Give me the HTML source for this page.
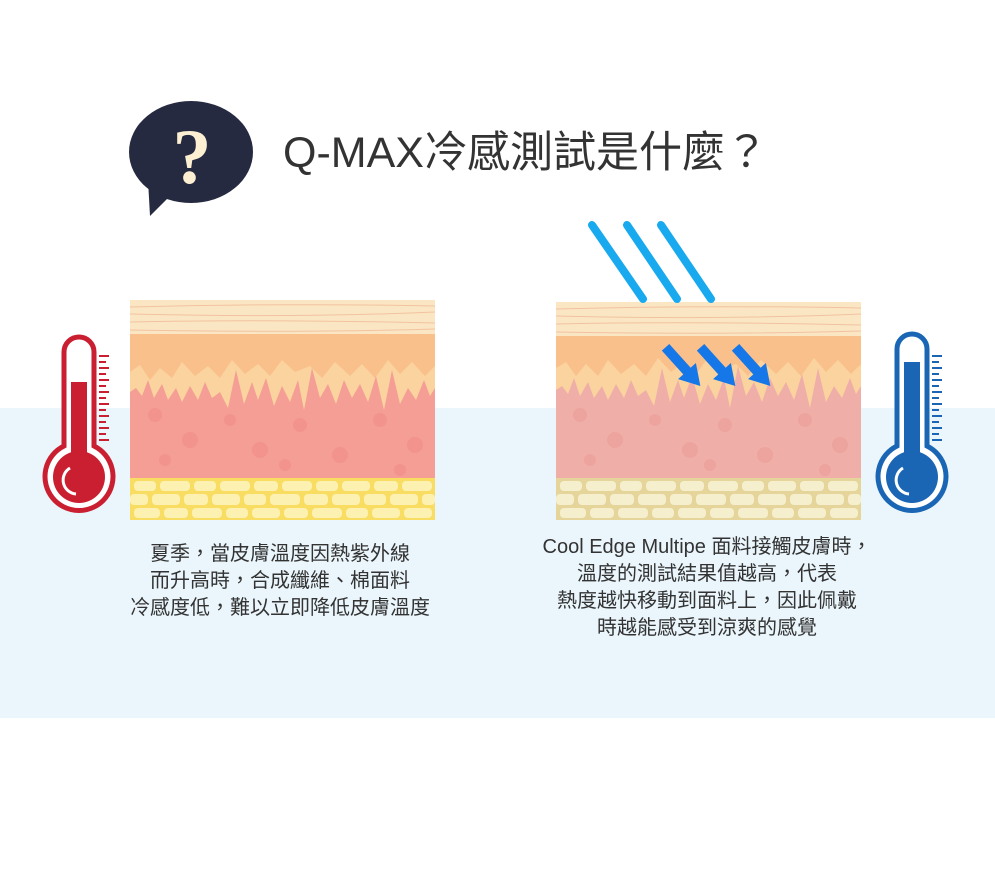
<!DOCTYPE html>
<html><head><meta charset="utf-8">
<style>
html,body{margin:0;padding:0;background:#fff;}
body{width:995px;height:883px;position:relative;overflow:hidden;font-family:"Liberation Sans","Noto Sans CJK TC",sans-serif;}
.band{position:absolute;left:0;top:408px;width:995px;height:310px;background:#eaf6fc;}
svg{position:absolute;left:0;top:0;}
.t{position:absolute;text-align:center;color:#333;font-size:20px;line-height:27px;}
</style></head><body>
<div class="band"></div>
<svg width="995" height="883" viewBox="0 0 995 883">
<!-- bubble -->
<ellipse cx="191" cy="152" rx="62" ry="51" fill="#252a40"/>
<path d="M148 180 L150 216 L170 196 Z" fill="#252a40"/>
<text x="192" y="183" text-anchor="middle" font-family="Liberation Serif,serif" font-weight="bold" font-size="78" fill="#fcefd2">?</text>
<text x="283" y="167" font-family="Liberation Sans,Noto Sans CJK TC,sans-serif" font-size="43" fill="#333" textLength="485" lengthAdjust="spacingAndGlyphs">Q-MAX冷感測試是什麼？</text>

<!-- LEFT skin -->
<g>
<rect x="130" y="300" width="305" height="36" fill="#fbe6c4"/>
<path d="M130 307 Q280 303 435 306 M130 314 Q300 318 435 312 M130 322 Q260 319 435 323 M130 330 Q300 333 435 329" stroke="#f2c2a0" stroke-width="1" fill="none"/>
<rect x="130" y="334" width="305" height="150" fill="#f9c08c"/>
<path d="M130 372 L140 365 L150 380 L160 368 L172 378 L182 362 L195 376 L208 366 L220 378 L232 360 L245 374 L258 364 L270 376 L282 360 L295 372 L310 366 L322 378 L335 362 L350 376 L362 364 L375 378 L388 360 L400 374 L412 362 L425 376 L435 366 L435 484 L130 484Z" fill="#fbd39e"/>
<path d="M130 392 L136 388 L142 396 L148 380 L154 398 L162 384 L168 400 L176 388 L182 402 L190 386 L198 400 L205 382 L212 398 L220 392 L228 408 L236 370 L244 404 L252 382 L258 400 L266 378 L274 406 L282 386 L290 402 L298 380 L304 410 L312 368 L320 398 L328 384 L336 404 L344 380 L352 398 L360 384 L368 402 L376 376 L384 410 L392 370 L400 404 L408 388 L416 400 L424 380 L430 396 L435 388 L435 484 L130 484Z" fill="#f49e96"/>
<g fill="#f07f7f" opacity="0.35">
<circle cx="155" cy="415" r="7"/><circle cx="190" cy="440" r="8"/><circle cx="230" cy="420" r="6"/><circle cx="260" cy="450" r="8"/><circle cx="300" cy="425" r="7"/><circle cx="340" cy="455" r="8"/><circle cx="380" cy="420" r="7"/><circle cx="415" cy="445" r="8"/><circle cx="165" cy="460" r="6"/><circle cx="285" cy="465" r="6"/><circle cx="400" cy="470" r="6"/>
</g>
<rect x="130" y="478" width="305" height="42" fill="#f8dd62"/>
<g fill="#fcf1b0">
<rect x="134" y="481" width="22" height="10" rx="4"/><rect x="160" y="481" width="30" height="10" rx="4"/><rect x="194" y="481" width="22" height="10" rx="4"/><rect x="220" y="481" width="30" height="10" rx="4"/><rect x="254" y="481" width="24" height="10" rx="4"/><rect x="282" y="481" width="30" height="10" rx="4"/><rect x="316" y="481" width="22" height="10" rx="4"/><rect x="342" y="481" width="28" height="10" rx="4"/><rect x="374" y="481" width="24" height="10" rx="4"/><rect x="402" y="481" width="30" height="10" rx="4"/>
<rect x="130" y="494" width="18" height="11" rx="4"/><rect x="152" y="494" width="28" height="11" rx="4"/><rect x="184" y="494" width="24" height="11" rx="4"/><rect x="212" y="494" width="28" height="11" rx="4"/><rect x="244" y="494" width="22" height="11" rx="4"/><rect x="270" y="494" width="30" height="11" rx="4"/><rect x="304" y="494" width="24" height="11" rx="4"/><rect x="332" y="494" width="28" height="11" rx="4"/><rect x="364" y="494" width="22" height="11" rx="4"/><rect x="390" y="494" width="28" height="11" rx="4"/><rect x="422" y="494" width="13" height="11" rx="4"/>
<rect x="134" y="508" width="26" height="10" rx="4"/><rect x="164" y="508" width="24" height="10" rx="4"/><rect x="192" y="508" width="30" height="10" rx="4"/><rect x="226" y="508" width="22" height="10" rx="4"/><rect x="252" y="508" width="28" height="10" rx="4"/><rect x="284" y="508" width="24" height="10" rx="4"/><rect x="312" y="508" width="30" height="10" rx="4"/><rect x="346" y="508" width="22" height="10" rx="4"/><rect x="372" y="508" width="28" height="10" rx="4"/><rect x="404" y="508" width="28" height="10" rx="4"/>
</g>
</g>

<!-- RIGHT skin -->
<g>
<rect x="556" y="302" width="305" height="36" fill="#fbe6c4"/>
<path d="M556 309 Q700 305 861 308 M556 316 Q720 320 861 314 M556 324 Q690 321 861 325 M556 332 Q720 335 861 331" stroke="#f2c2a0" stroke-width="1" fill="none"/>
<rect x="556" y="336" width="305" height="148" fill="#f9c08c"/>
<path d="M556 368 L566 362 L576 376 L586 364 L598 376 L608 360 L621 374 L634 364 L646 376 L658 358 L671 372 L684 362 L696 374 L708 358 L721 370 L736 364 L748 376 L761 360 L776 374 L788 362 L801 376 L814 358 L826 372 L838 360 L851 374 L861 364 L861 484 L556 484Z" fill="#fbd39e"/>
<path d="M556 390 L562 386 L568 394 L574 378 L580 396 L588 382 L594 398 L602 386 L608 400 L616 384 L624 398 L631 380 L638 396 L646 390 L654 406 L662 368 L670 402 L678 380 L684 398 L692 376 L700 404 L708 384 L716 400 L724 378 L730 408 L738 366 L746 396 L754 382 L762 402 L770 378 L778 396 L786 382 L794 400 L802 374 L810 408 L818 368 L826 402 L834 386 L842 398 L850 378 L856 394 L861 386 L861 484 L556 484Z" fill="#efafa8"/>
<g fill="#ea8a8a" opacity="0.3">
<circle cx="580" cy="415" r="7"/><circle cx="615" cy="440" r="8"/><circle cx="655" cy="420" r="6"/><circle cx="690" cy="450" r="8"/><circle cx="725" cy="425" r="7"/><circle cx="765" cy="455" r="8"/><circle cx="805" cy="420" r="7"/><circle cx="840" cy="445" r="8"/><circle cx="590" cy="460" r="6"/><circle cx="710" cy="465" r="6"/><circle cx="825" cy="470" r="6"/>
</g>
<rect x="556" y="478" width="305" height="42" fill="#e6d59a"/>
<g fill="#f6efce" transform="translate(426,0)">
<rect x="134" y="481" width="22" height="10" rx="4"/><rect x="160" y="481" width="30" height="10" rx="4"/><rect x="194" y="481" width="22" height="10" rx="4"/><rect x="220" y="481" width="30" height="10" rx="4"/><rect x="254" y="481" width="24" height="10" rx="4"/><rect x="282" y="481" width="30" height="10" rx="4"/><rect x="316" y="481" width="22" height="10" rx="4"/><rect x="342" y="481" width="28" height="10" rx="4"/><rect x="374" y="481" width="24" height="10" rx="4"/><rect x="402" y="481" width="30" height="10" rx="4"/>
<rect x="130" y="494" width="18" height="11" rx="4"/><rect x="152" y="494" width="28" height="11" rx="4"/><rect x="184" y="494" width="24" height="11" rx="4"/><rect x="212" y="494" width="28" height="11" rx="4"/><rect x="244" y="494" width="22" height="11" rx="4"/><rect x="270" y="494" width="30" height="11" rx="4"/><rect x="304" y="494" width="24" height="11" rx="4"/><rect x="332" y="494" width="28" height="11" rx="4"/><rect x="364" y="494" width="22" height="11" rx="4"/><rect x="390" y="494" width="28" height="11" rx="4"/><rect x="422" y="494" width="13" height="11" rx="4"/>
<rect x="134" y="508" width="26" height="10" rx="4"/><rect x="164" y="508" width="24" height="10" rx="4"/><rect x="192" y="508" width="30" height="10" rx="4"/><rect x="226" y="508" width="22" height="10" rx="4"/><rect x="252" y="508" width="28" height="10" rx="4"/><rect x="284" y="508" width="24" height="10" rx="4"/><rect x="312" y="508" width="30" height="10" rx="4"/><rect x="346" y="508" width="22" height="10" rx="4"/><rect x="372" y="508" width="28" height="10" rx="4"/><rect x="404" y="508" width="28" height="10" rx="4"/>
</g>
</g>

<!-- cold rays -->
<g stroke="#18a9ee" stroke-width="8" stroke-linecap="round">
<line x1="592" y1="225" x2="643" y2="299"/>
<line x1="627" y1="225" x2="677" y2="299"/>
<line x1="661" y1="225" x2="711" y2="299"/>
</g>
<g fill="#1677e8">
<g transform="translate(695,380) rotate(48)"><rect x="-44" y="-5" width="34" height="10"/><polygon points="-12,-12 8,0 -12,12"/></g>
<g transform="translate(730,380) rotate(48)"><rect x="-44" y="-5" width="34" height="10"/><polygon points="-12,-12 8,0 -12,12"/></g>
<g transform="translate(765,380) rotate(48)"><rect x="-44" y="-5" width="34" height="10"/><polygon points="-12,-12 8,0 -12,12"/></g>
</g>

<!-- red thermometer -->
<g>
<path d="M64 446 L64 352 A15 15 0 0 1 94 352 L94 446 A34 34 0 1 1 64 446 Z" fill="#fff" stroke="#c91f30" stroke-width="5"/>
<rect x="71" y="382" width="16" height="80" fill="#c91f30"/>
<circle cx="79" cy="477" r="26" fill="#c91f30"/>
<path d="M70 468 A14 14 0 0 0 76 494" stroke="#fff" stroke-width="3" fill="none"/>
<g stroke="#c91f30" stroke-width="2">
<line x1="99" y1="356" x2="109" y2="356"/><line x1="99" y1="362" x2="106" y2="362"/><line x1="99" y1="368" x2="109" y2="368"/><line x1="99" y1="374" x2="106" y2="374"/><line x1="99" y1="380" x2="109" y2="380"/><line x1="99" y1="386" x2="106" y2="386"/><line x1="99" y1="392" x2="109" y2="392"/><line x1="99" y1="398" x2="106" y2="398"/><line x1="99" y1="404" x2="109" y2="404"/><line x1="99" y1="410" x2="106" y2="410"/><line x1="99" y1="416" x2="109" y2="416"/><line x1="99" y1="422" x2="106" y2="422"/><line x1="99" y1="428" x2="109" y2="428"/><line x1="99" y1="434" x2="106" y2="434"/><line x1="99" y1="440" x2="109" y2="440"/>
</g>
</g>
<!-- blue thermometer -->
<g>
<path d="M897 446 L897 349 A15 15 0 0 1 927 349 L927 446 A34 34 0 1 1 897 446 Z" fill="#fff" stroke="#1a66b4" stroke-width="5"/>
<rect x="904" y="362" width="16" height="100" fill="#1a66b4"/>
<circle cx="912" cy="477" r="26" fill="#1a66b4"/>
<path d="M903 468 A14 14 0 0 0 909 494" stroke="#fff" stroke-width="3" fill="none"/>
<g stroke="#1a66b4" stroke-width="2">
<line x1="932" y1="356" x2="942" y2="356"/><line x1="932" y1="362" x2="939" y2="362"/><line x1="932" y1="368" x2="942" y2="368"/><line x1="932" y1="374" x2="939" y2="374"/><line x1="932" y1="380" x2="942" y2="380"/><line x1="932" y1="386" x2="939" y2="386"/><line x1="932" y1="392" x2="942" y2="392"/><line x1="932" y1="398" x2="939" y2="398"/><line x1="932" y1="404" x2="942" y2="404"/><line x1="932" y1="410" x2="939" y2="410"/><line x1="932" y1="416" x2="942" y2="416"/><line x1="932" y1="422" x2="939" y2="422"/><line x1="932" y1="428" x2="942" y2="428"/><line x1="932" y1="434" x2="939" y2="434"/><line x1="932" y1="440" x2="942" y2="440"/>
</g>
</g>
</svg>
<div class="t" style="left:80px;width:400px;top:541px;">夏季，當皮膚溫度因熱紫外線<br>而升高時，合成纖維、棉面料<br>冷感度低，難以立即降低皮膚溫度</div>
<div class="t" style="left:487px;width:440px;top:534px;">Cool Edge Multipe 面料接觸皮膚時，<br>溫度的測試結果值越高，代表<br>熱度越快移動到面料上，因此佩戴<br>時越能感受到涼爽的感覺</div>
</body></html>
